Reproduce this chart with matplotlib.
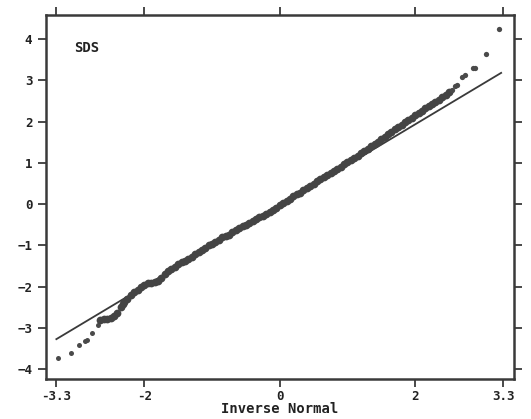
import matplotlib
matplotlib.use("Agg")
import matplotlib.pyplot as plt

# normal probability plot of SDS
# tails and band
x_vals = [-3.28, -3.08, -2.96, -2.87, -2.84, -2.77, -2.69,
          -2.65, -2.60, -2.55, -2.50, -2.45, -2.40, -2.35, -2.32,
          -2.30, -2.25, -2.20, -2.15, -2.10, -2.05, -2.00, -1.95, -1.90, -1.85,
          -1.80, -1.75, -1.70, -1.65, -1.60, -1.55, -1.50, -1.45, -1.40, -1.35,
          -1.30, -1.25, -1.20, -1.15, -1.10, -1.05, -1.00, -0.95, -0.90, -0.85,
          -0.80, -0.75, -0.70, -0.65, -0.60, -0.55, -0.50, -0.45, -0.40, -0.35,
          -0.30, -0.25, -0.20, -0.15, -0.10, -0.05, 0.00, 0.05, 0.10, 0.15,
          0.20, 0.25, 0.30, 0.35, 0.40, 0.45, 0.50, 0.55, 0.60, 0.65,
          0.70, 0.75, 0.80, 0.85, 0.90, 0.95, 1.00, 1.05, 1.10, 1.15,
          1.20, 1.25, 1.30, 1.35, 1.40, 1.45, 1.50, 1.55, 1.60, 1.65,
          1.70, 1.75, 1.80, 1.85, 1.90, 1.95, 2.00, 2.05, 2.10, 2.15,
          2.20, 2.25, 2.30, 2.35, 2.40, 2.45, 2.50,
          2.55, 2.59, 2.62, 2.69, 2.74, 2.85, 2.89, 3.04, 3.24]
sds = [-3.73, -3.60, -3.42, -3.32, -3.30, -3.12, -2.93,
       -2.80, -2.78, -2.77, -2.75, -2.71, -2.63, -2.50, -2.42,
       -2.37, -2.29, -2.20, -2.12, -2.08, -2.01, -1.95, -1.92, -1.90, -1.88,
       -1.85, -1.78, -1.69, -1.61, -1.57, -1.53, -1.46, -1.40, -1.37, -1.34,
       -1.27, -1.20, -1.16, -1.12, -1.05, -0.99, -0.96, -0.92, -0.86, -0.80,
       -0.77, -0.74, -0.68, -0.62, -0.58, -0.54, -0.50, -0.45, -0.41, -0.36,
       -0.32, -0.29, -0.25, -0.20, -0.14, -0.09, -0.03, 0.03, 0.07, 0.13,
       0.19, 0.25, 0.28, 0.34, 0.40, 0.44, 0.50, 0.56, 0.60, 0.65,
       0.71, 0.76, 0.81, 0.85, 0.91, 0.97, 1.01, 1.07, 1.13, 1.17,
       1.23, 1.29, 1.34, 1.40, 1.46, 1.51, 1.57, 1.63, 1.69, 1.75,
       1.81, 1.87, 1.92, 1.98, 2.04, 2.09, 2.15, 2.21, 2.26, 2.32,
       2.37, 2.43, 2.48, 2.53, 2.59, 2.64, 2.71,
       2.76, 2.86, 2.88, 3.07, 3.13, 3.30, 3.30, 3.64, 4.24]

# reference line
fit_x = [-3.30, 3.27]
fit_y = [-3.27, 3.18]

xticks = [-3.3, -2, 0, 2, 3.3]
xticklabels = ["-3.3", "-2", "0", "2", "3.3"]
yticks = [-4, -3, -2, -1, 0, 1, 2, 3, 4]

col = "#3a3a3a"
plt.rcParams['font.family'] = ['DejaVu Sans Mono']

fig = plt.figure(figsize=(5.31, 4.19), dpi=100)
ax = fig.add_axes([0.087, 0.095, 0.881, 0.869])

ax.plot(fit_x, fit_y, color=col, lw=1.3, zorder=2)
# dense middle band drawn a bit heavier than the sparse tails
lo, hi = 7, len(x_vals) - 9
ax.plot(x_vals[:lo], sds[:lo], 'o', color="#4a4a4a", ms=3.6, mew=0, zorder=3)
ax.plot(x_vals[lo:hi], sds[lo:hi], 'o', color="#444444", ms=5.6, mew=0, zorder=3)
ax.plot(x_vals[hi:], sds[hi:], 'o', color="#4a4a4a", ms=3.8, mew=0, zorder=3)

ax.set_xlim(-3.45, 3.46)
ax.set_ylim(-4.24, 4.58)

ax.set_xticks(xticks)
ax.set_xticklabels(xticklabels)
ax.set_yticks(yticks)
ax.tick_params(axis='both', direction='out', length=6, width=1.3, color=col,
               labelsize=9, labelcolor="#222222", pad=2,
               top=True, right=True, labeltop=False, labelright=False)
ax.tick_params(axis='y', pad=4)
for lab in ax.get_xticklabels() + ax.get_yticklabels():
    lab.set_fontweight('bold')

for s in ax.spines.values():
    s.set_linewidth(1.8)
    s.set_color(col)

ax.set_xlabel("Inverse Normal", fontsize=10, color="#222222", labelpad=-1,
              fontweight='bold')
ax.text(0.06, 0.91, "SDS", transform=ax.transAxes, fontsize=10,
        color="#222222", va='center', ha='left', fontweight='bold')

fig.savefig("out.png", dpi=100)
